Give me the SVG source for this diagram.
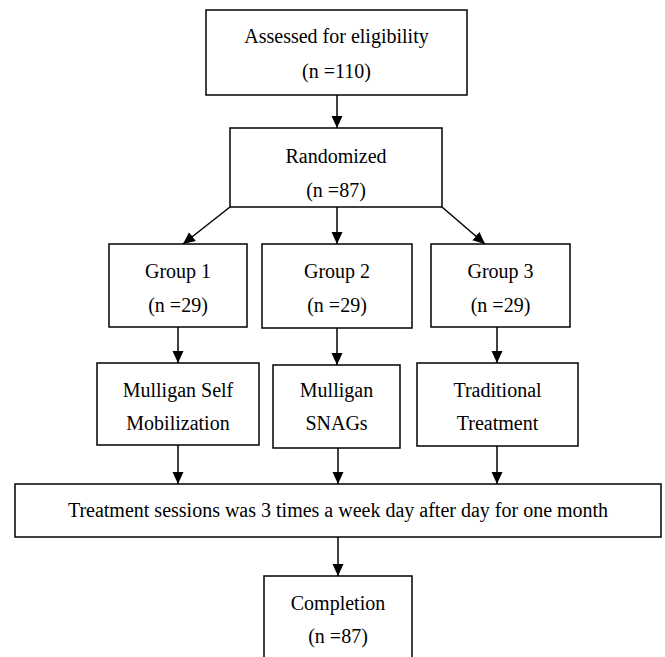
<svg xmlns="http://www.w3.org/2000/svg" width="665" height="657" viewBox="0 0 665 657">
<style>
.box{fill:#fff;stroke:#000;stroke-width:1.5}
.t{font-family:"Liberation Serif","Times New Roman",serif;font-size:20px;fill:#000;text-anchor:middle}
.c{stroke:#000;stroke-width:1.5;fill:none;marker-end:url(#ah)}
</style>
<defs>
<marker id="ah" markerUnits="userSpaceOnUse" markerWidth="12" markerHeight="12" viewBox="0 0 12 12" refX="12" refY="6" orient="auto">
<path d="M0,0.5 L12,6 L0,11.5 Z" fill="#000"/>
</marker>
</defs>
<rect width="665" height="657" fill="#fff"/>
<g id="connectors">
<line class="c" x1="337" y1="95" x2="337" y2="128"/>
<line class="c" x1="230" y1="207" x2="183" y2="244"/>
<line class="c" x1="337" y1="207" x2="337" y2="244"/>
<line class="c" x1="442" y1="207" x2="485" y2="244"/>
<line class="c" x1="178" y1="327" x2="178" y2="363"/>
<line class="c" x1="337" y1="328" x2="337" y2="365"/>
<line class="c" x1="497" y1="327" x2="497" y2="363"/>
<line class="c" x1="178" y1="445" x2="178" y2="484"/>
<line class="c" x1="338" y1="448" x2="338" y2="484"/>
<line class="c" x1="497" y1="446" x2="497" y2="484"/>
<line class="c" x1="338" y1="537" x2="338" y2="576"/>
</g>
<g id="assessed">
<rect class="box" x="206" y="10" width="261" height="85"/>
<text class="t" x="336.5" y="43">Assessed for eligibility</text>
<text class="t" x="336.5" y="78">(n =110)</text>
</g>
<g id="randomized">
<rect class="box" x="230" y="128" width="212" height="79"/>
<text class="t" x="336" y="163">Randomized</text>
<text class="t" x="336" y="197">(n =87)</text>
</g>
<g id="group1">
<rect class="box" x="109" y="244" width="138" height="83"/>
<text class="t" x="178" y="278">Group 1</text>
<text class="t" x="178" y="312">(n =29)</text>
</g>
<g id="group2">
<rect class="box" x="262" y="244" width="150" height="84"/>
<text class="t" x="337" y="278">Group 2</text>
<text class="t" x="337" y="312">(n =29)</text>
</g>
<g id="group3">
<rect class="box" x="431" y="244" width="139" height="83"/>
<text class="t" x="500.5" y="278">Group 3</text>
<text class="t" x="500.5" y="312">(n =29)</text>
</g>
<g id="mulligan-self">
<rect class="box" x="97" y="363" width="162" height="82"/>
<text class="t" x="178" y="397">Mulligan Self</text>
<text class="t" x="178" y="430">Mobilization</text>
</g>
<g id="mulligan-snags">
<rect class="box" x="273" y="365" width="127" height="83"/>
<text class="t" x="336.5" y="397">Mulligan</text>
<text class="t" x="336.5" y="430">SNAGs</text>
</g>
<g id="traditional">
<rect class="box" x="417" y="363" width="161" height="83"/>
<text class="t" x="497.5" y="397">Traditional</text>
<text class="t" x="497.5" y="430">Treatment</text>
</g>
<g id="sessions">
<rect class="box" x="15" y="484" width="646" height="53"/>
<text class="t" x="338" y="517">Treatment sessions was 3 times a week day after day for one month</text>
</g>
<g id="completion">
<rect class="box" x="264" y="576" width="148" height="90"/>
<text class="t" x="338" y="610">Completion</text>
<text class="t" x="338" y="643">(n =87)</text>
</g>
</svg>
